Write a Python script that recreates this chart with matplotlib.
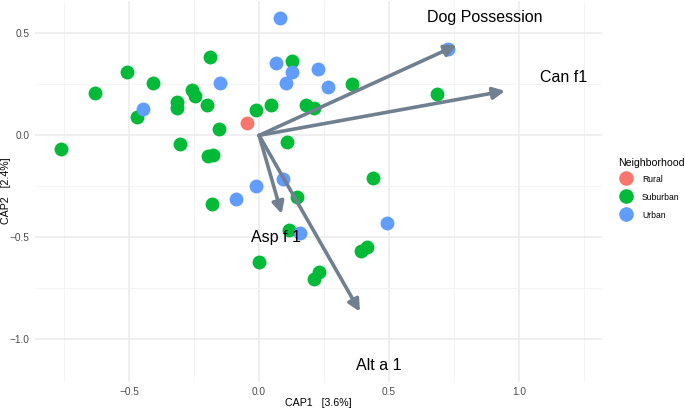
import numpy as np
import matplotlib
matplotlib.use("Agg")
import matplotlib.pyplot as plt
from matplotlib.lines import Line2D


plt.rcParams["font.family"] = ["Liberation Sans", "DejaVu Sans"]

# sample scores (CAP1, CAP2) by neighborhood
rural_x = [-0.047]
rural_y = [0.062]

suburban_x = [-0.188, -0.507, -0.409, -0.631, -0.259, -0.246, -0.199, -0.314,
              -0.314, -0.470, -0.153, -0.763, -0.303, -0.197, -0.178, 0.126,
              0.359, 0.045, -0.010, 0.180, 0.212, 0.109, 0.683, 0.145,
              0.437, 0.115, 0.391, 0.414, 0.000, 0.212, 0.232, -0.181]
suburban_y = [0.385, 0.311, 0.258, 0.206, 0.222, 0.194, 0.148, 0.162,
              0.132, 0.091, 0.032, -0.069, -0.043, -0.101, -0.098, 0.365,
              0.253, 0.150, 0.125, 0.150, 0.132, -0.034, 0.202, -0.304,
              -0.211, -0.464, -0.567, -0.546, -0.621, -0.705, -0.668, -0.336]

urban_x = [-0.149, -0.445, 0.081, 0.064, 0.128, 0.227, 0.103, 0.265,
           0.728, -0.012, -0.088, 0.093, 0.492, 0.158]
urban_y = [0.255, 0.129, 0.574, 0.356, 0.311, 0.323, 0.255, 0.235,
           0.421, -0.248, -0.312, -0.214, -0.428, -0.477]

# biplot arrows (environmental variables)
var_names = ["Dog Possession", "Can f1", "Asp f 1", "Alt a 1"]
var_x = [0.760, 0.946, 0.087, 0.388]
var_y = [0.442, 0.218, -0.385, -0.864]
label_x = [0.869, 1.170, 0.065, 0.459]
label_y = [0.578, 0.284, -0.500, -1.128]

groups = ["Rural", "Suburban", "Urban"]
colors = ["#F8766D", "#00BA38", "#619CFF"]

#######################################################################################################

fig = plt.figure(figsize=(6.85, 4.09), dpi=100)
ax = fig.add_axes([35 / 685, 1 - 381.7 / 409, 567 / 685, 381.0 / 409])

ax.set_xlim(-0.862, 1.319)
ax.set_ylim(-1.207, 0.66)

ax.set_xticks([-0.5, 0.0, 0.5, 1.0])
ax.set_yticks([-1.0, -0.5, 0.0, 0.5])
ax.set_xticks([-0.75, -0.25, 0.25, 0.75, 1.25], minor=True)
ax.set_yticks([-0.75, -0.25, 0.25], minor=True)
ax.grid(which="major", color="#EBEBEB", linewidth=1.1, zorder=0)
ax.grid(which="minor", color="#F3F3F3", linewidth=0.6, zorder=0)
ax.tick_params(which="both", length=0, labelsize=7.3, labelcolor="#4D4D4D", pad=4)
for s in ax.spines.values():
    s.set_visible(False)
ax.set_axisbelow(True)

dot = 100
ax.scatter(suburban_x, suburban_y, s=dot, color=colors[1], linewidths=0, zorder=2)
ax.scatter(urban_x, urban_y, s=dot, color=colors[2], linewidths=0, zorder=2)
ax.scatter(rural_x, rural_y, s=dot, color=colors[0], linewidths=0, zorder=2)

for name, vx, vy, lx, ly in zip(var_names, var_x, var_y, label_x, label_y):
    ax.annotate("", xy=(vx, vy), xytext=(0, 0),
                arrowprops=dict(arrowstyle="-|>,head_length=0.7,head_width=0.35",
                                color="#708090", lw=2.6, shrinkA=0, shrinkB=0),
                zorder=3)
    ax.text(lx, ly, name, fontsize=11.5, ha="center", va="center", zorder=4)

fig.text(318.5 / 685, 1 - 402.7 / 409, "CAP1   [3.6%]", fontsize=7.7,
         ha="center", va="center")
fig.text(6 / 685, 1 - 191 / 409, "CAP2   [2.4%]", fontsize=7.7,
         ha="center", va="center", rotation=90)

handles = [Line2D([], [], linestyle="none", marker="o", markersize=10.5,
                  markerfacecolor=c, markeredgewidth=0) for c in colors]
leg = fig.legend(handles, groups, title="Neighborhood", loc="upper left",
                 bbox_to_anchor=(618 / 685, 1 - 158 / 409), frameon=False,
                 fontsize=6.2, title_fontsize=7.6, alignment="left",
                 handlelength=1.8, handletextpad=1.0, handleheight=1.9,
                 labelspacing=0.6, borderpad=0, borderaxespad=0)

fig.savefig("out.png", dpi=100)
